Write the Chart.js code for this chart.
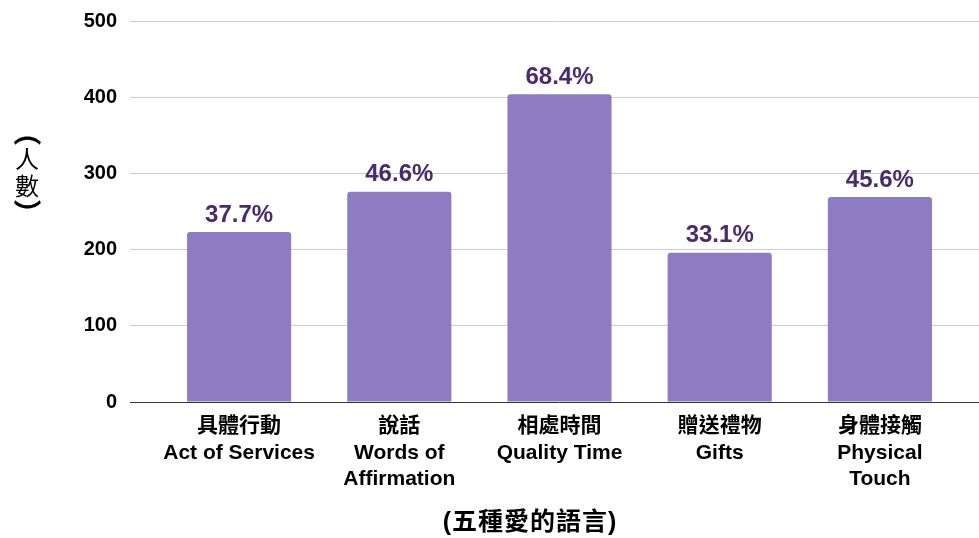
<!DOCTYPE html>
<html>
<head>
<meta charset="utf-8">
<script src="https://cdn.jsdelivr.net/npm/chart.js@4/dist/chart.umd.min.js"></script>
<style>
  html, body { margin: 0; padding: 0; background: #fff; }
  #wrap { width: 979px; height: 538px; }
</style>
</head>
<body>
<div id="wrap"><canvas id="loveChart"></canvas></div>
<script>
const categories = [
  ['具體行動', 'Act of Services'],
  ['說話', 'Words of', 'Affirmation'],
  ['相處時間', 'Quality Time'],
  ['贈送禮物', 'Gifts'],
  ['身體接觸', 'Physical', 'Touch']
];
const counts = [223, 276, 404, 196, 269];
const percents = ['37.7%', '46.6%', '68.4%', '33.1%', '45.6%'];
const yTitle = ['（', '人', '數', '）'];
const xTitle = '(五種愛的語言)';

const FONT = '"Liberation Sans", Arial, "Noto Sans CJK TC", sans-serif';
const CJK = '"Noto Sans CJK TC", sans-serif';

function align(p) {
  return Math.round(p - 0.5) + 0.5;
}

// 百分比標籤、直排 y 軸標題、x 軸標題、延伸格線
const extras = {
  id: 'extras',
  beforeDatasetsDraw(chart) {
    const ctx = chart.ctx;
    const area = chart.chartArea;
    const y = chart.scales.y;
    ctx.save();
    y.ticks.forEach((t) => {
      const py = align(y.getPixelForValue(t.value));
      ctx.strokeStyle = t.value === 0 ? '#333333' : '#cccccc';
      ctx.lineWidth = 1;
      ctx.beginPath();
      ctx.moveTo(area.right, py);
      ctx.lineTo(chart.width, py);
      ctx.stroke();
    });
    ctx.restore();
  },
  afterDatasetsDraw(chart) {
    const ctx = chart.ctx;
    ctx.save();
    ctx.font = 'bold 24px ' + FONT;
    ctx.fillStyle = '#4B2A6E';
    ctx.textAlign = 'center';
    ctx.textBaseline = 'bottom';
    chart.getDatasetMeta(0).data.forEach((bar, i) => {
      ctx.fillText(percents[i], bar.x, bar.y - 5);
    });

    // 直排標題：括號轉 90 度
    ctx.font = '24px ' + CJK;
    ctx.fillStyle = '#000';
    ctx.textBaseline = 'middle';
    yTitle.forEach((ch, i) => {
      const cy = 132 + i * 27;
      if (i === 0 || i === yTitle.length - 1) {
        ctx.save();
        ctx.translate(27, cy);
        ctx.rotate(Math.PI / 2);
        ctx.font = 'bold 28px ' + CJK;
        ctx.fillText(ch, 0, 0);
        ctx.restore();
      } else {
        ctx.fillText(ch, 27, cy);
      }
    });

    ctx.font = 'bold 25px ' + FONT;
    ctx.letterSpacing = '1px';
    ctx.fillText(xTitle, 530, 523);
    ctx.restore();
  }
};

new Chart(document.getElementById('loveChart'), {
  type: 'bar',
  data: {
    labels: categories,
    datasets: [{
      data: counts,
      backgroundColor: '#8E7CC3',
      borderRadius: { topLeft: 3, topRight: 3 },
      borderSkipped: 'start',
      categoryPercentage: 1,
      barPercentage: 0.65
    }]
  },
  options: {
    responsive: true,
    maintainAspectRatio: false,
    animation: false,
    layout: { padding: { top: 21, right: 19, left: 0, bottom: 0 } },
    plugins: {
      legend: { display: false },
      tooltip: { enabled: false }
    },
    scales: {
      y: {
        min: 0,
        max: 500,
        ticks: {
          stepSize: 100,
          padding: 13,
          color: '#000',
          font: { family: FONT, size: 20, weight: 'bold' }
        },
        grid: {
          color: (c) => (c.tick && c.tick.value === 0 ? '#333333' : '#cccccc'),
          tickColor: (c) => (c.tick && c.tick.value === 0 ? '#333333' : '#cccccc'),
          tickLength: 29
        },
        border: { display: false },
        afterFit(scale) {
          scale.width = 159;
          scale.paddingTop = 0;
          scale.paddingBottom = 0;
        }
      },
      x: {
        grid: { display: false },
        border: { display: false },
        ticks: {
          padding: 3,
          color: '#000',
          maxRotation: 0,
          autoSkip: false,
          font: { family: FONT, size: 21, weight: 'bold', lineHeight: 1.27 }
        },
        afterFit(scale) { scale.height = 136; }
      }
    }
  },
  plugins: [extras]
});
</script>
</body>
</html>
